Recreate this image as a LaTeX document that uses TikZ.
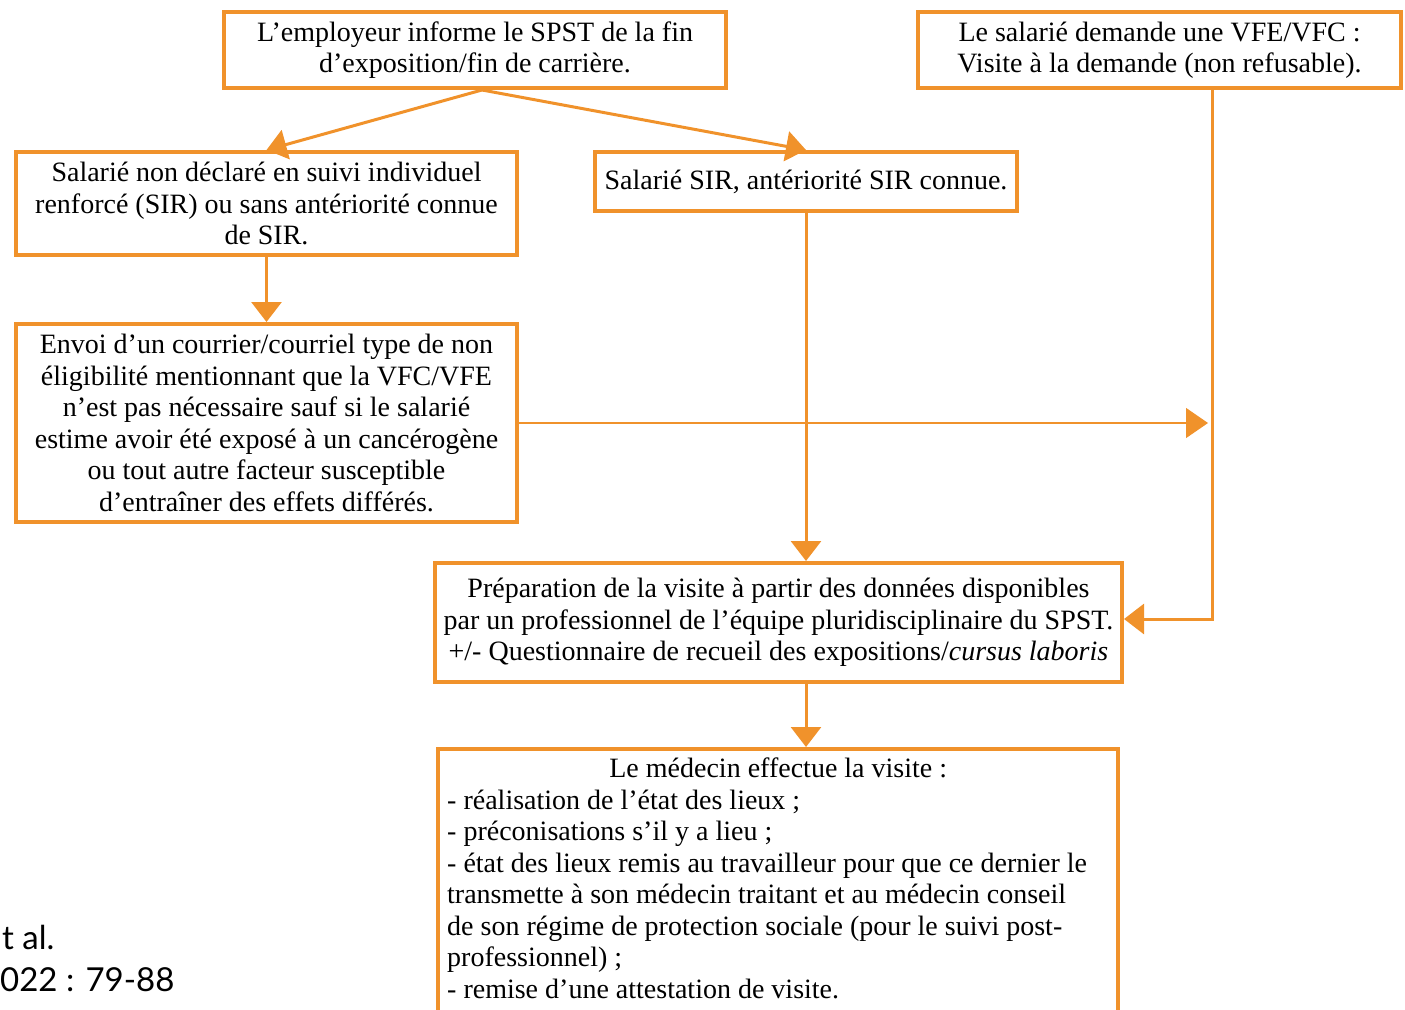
\documentclass[tikz,border=0pt]{standalone}
\usepackage{fontspec}
\setmainfont{Liberation Serif}
\newfontfamily\refsans{Lato}
\usetikzlibrary{arrows.meta}
\definecolor{orng}{RGB}{240,146,43}
\newcommand{\boxfont}{\fontsize{28}{31.5}\selectfont}
\tikzset{
  boxst/.style={draw=orng, line width=4pt, inner sep=0pt, align=center, font=\boxfont},
  conn/.style={draw=orng, line width=3pt, -{Triangle[width=30pt,length=20pt]}},
  thinconn/.style={draw=orng, line width=1.3pt, -{Triangle[width=30pt,length=22pt]}},
  reftxt/.style={anchor=west, inner sep=0pt, font=\refsans\fontsize{33}{36}\selectfont}
}
\begin{document}
\begin{tikzpicture}[x=1pt,y=-1pt]
\useasboundingbox (0,0) rectangle (1405,1009);
\clip (0,0) rectangle (1405,1009);
\node[boxst, minimum width=502pt, minimum height=76pt] (top) at (475,50)
  {L’employeur informe le SPST de la fin\\ d’exposition/fin de carrière.};
\node[boxst, minimum width=483pt, minimum height=76pt] (demande) at (1159.5,50)
  {Le salarié demande une VFE/VFC :\\ Visite à la demande (non refusable).};
\node[boxst, minimum width=501pt, minimum height=103pt] (nondecl) at (266.5,203.5)
  {Salarié non déclaré en suivi individuel\\ renforcé (SIR) ou sans antériorité connue\\ de SIR.};
\node[boxst, minimum width=422pt, minimum height=59pt] (sir) at (806,181.5)
  {Salarié SIR, antériorité SIR connue.};
\node[boxst, minimum width=501pt, minimum height=198pt] (envoi) at (266.5,423)
  {Envoi d’un courrier/courriel type de non\\ éligibilité mentionnant que la VFC/VFE\\ n’est pas nécessaire sauf si le salarié\\ estime avoir été exposé à un cancérogène\\ ou tout autre facteur susceptible\\ d’entraîner des effets différés.};
\node[boxst, minimum width=687pt, minimum height=119pt] (prep) at (778.5,622.5)
  {Préparation de la visite à partir des données disponibles\\ par un professionnel de l’équipe pluridisciplinaire du SPST.\\ +/- Questionnaire de recueil des expositions/\textit{cursus laboris}};
\node[boxst, minimum width=680pt, minimum height=281pt] (medecin) at (778,889.5) {};
\node[anchor=north west, inner sep=0pt, text width=720pt, align=flush left, font=\boxfont] (medtxt) at (447,758)
  {\hbox to 662pt{\hss Le médecin effectue la visite :\hss}\par
   - réalisation de l’état des lieux ;\par
   - préconisations s’il y a lieu ;\par
   - état des lieux remis au travailleur pour que ce dernier le\par
   transmette à son médecin traitant et au médecin conseil\par
   de son régime de protection sociale (pour le suivi post-\par
   professionnel) ;\par
   - remise d’une attestation de visite.};
\node[reftxt] (ref1) at (2,937) {t al.};
\node[reftxt] (ref2) at (0,980) {022 : 79-88};
\coordinate (dout) at ([xshift=52.5pt]demande.south);
\coordinate (topout) at ([xshift=7pt]top.south);
\coordinate (pm) at (prep.south -| sir.south);
\draw[conn] (topout) -- (nondecl.north);
\draw[conn] (topout) -- (sir.north);
\draw[conn] (nondecl.south) -- (envoi.north);
\draw[conn] (sir.south) -- (sir.south |- prep.north);
\draw[conn] (pm) -- (pm |- medecin.north);
\draw[conn] (dout) |- ([yshift=3.5pt]prep.east);
\draw[thinconn, shorten >=4pt] (envoi.east) -- (envoi.east -| dout);
\end{tikzpicture}
\end{document}
